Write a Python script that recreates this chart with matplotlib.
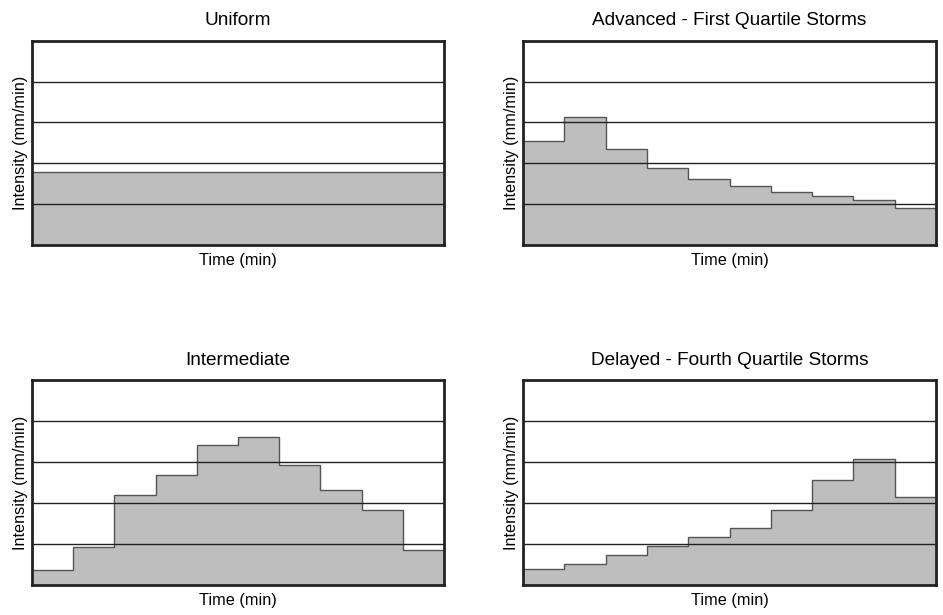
import numpy as np
import matplotlib.pyplot as plt

plt.rcParams['font.family'] = ['Liberation Sans', 'DejaVu Sans']

titles = ["Uniform", "Advanced - First Quartile Storms",
          "Intermediate", "Delayed - Fourth Quartile Storms"]
uniform = [1.78] * 10
advanced = [2.54, 3.13, 2.35, 1.88, 1.61, 1.44, 1.30, 1.19, 1.10, 0.90]
intermediate = [0.37, 0.92, 2.20, 2.68, 3.41, 3.62, 2.92, 2.31, 1.82, 0.86]
delayed = [0.40, 0.51, 0.73, 0.96, 1.18, 1.39, 1.82, 2.55, 3.08, 2.14]
series = [uniform, advanced, intermediate, delayed]
grid_levels = [1, 2, 3, 4]

fig = plt.figure(figsize=(9.43, 6.15), dpi=100)
positions = [
    [0.0339, 0.6016, 0.4369, 0.3322],
    [0.5546, 0.6016, 0.4380, 0.3322],
    [0.0339, 0.0488, 0.4369, 0.3333],
    [0.5546, 0.0488, 0.4380, 0.3333],
]

for pos, title, vals in zip(positions, titles, series):
    ax = fig.add_axes(pos)
    edges = np.arange(len(vals) + 1)
    ax.stairs(vals, edges, fill=True, color="#bebebe", zorder=1)
    ax.stairs(vals, edges, baseline=None, color="#555555", lw=1.0, zorder=2)
    for g in grid_levels:
        ax.axhline(g, color="#222222", lw=1.0, zorder=3)
    ax.set_xlim(0, len(vals))
    ax.set_ylim(0, 5)
    ax.set_xticks([])
    ax.set_yticks([])
    for s in ax.spines.values():
        s.set_linewidth(2.0)
        s.set_color("#222222")
        s.set_zorder(4)
    ax.set_title(title, fontsize=13.7, pad=11)
    ax.set_xlabel("Time (min)", fontsize=11.7, labelpad=6)
    ax.set_ylabel("Intensity (mm/min)", fontsize=11.7, labelpad=3)

fig.savefig("out.png", dpi=100)
